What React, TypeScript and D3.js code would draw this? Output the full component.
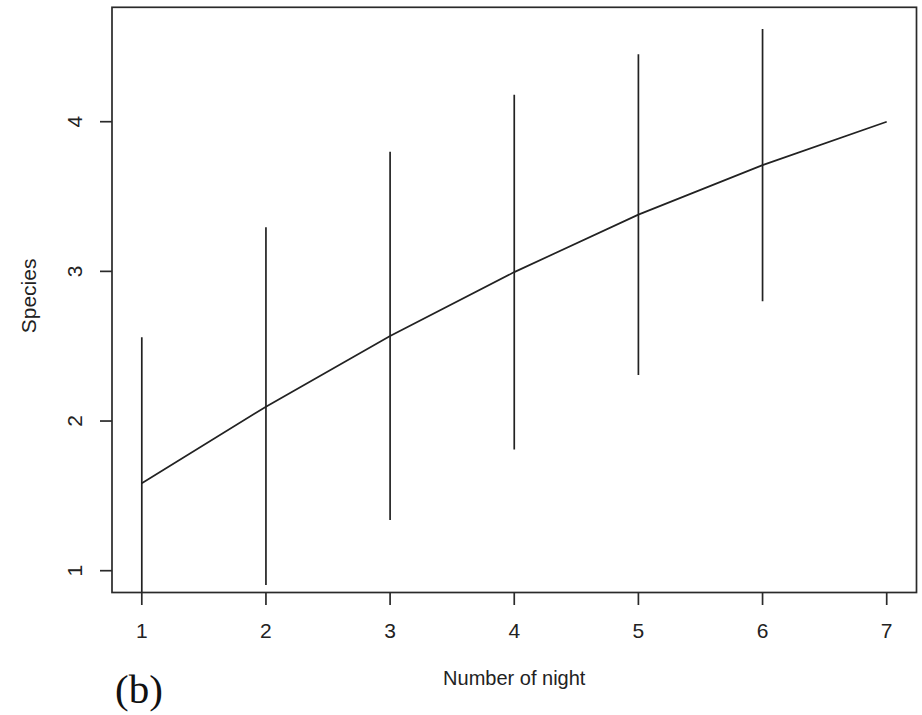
import React from "react";
import * as d3 from "d3";

const nights = [1, 2, 3, 4, 5, 6, 7];
const species = [1.584, 2.096, 2.568, 2.995, 3.379, 3.71, 4.0];
const upper = [2.56, 3.294, 3.8, 4.18, 4.45, 4.62, 4.0];
const lower = [0.608, 0.905, 1.339, 1.81, 2.307, 2.8, 4.0];
const xTicks = [1, 2, 3, 4, 5, 6, 7];
const yTicks = [1, 2, 3, 4];

const W = 922;
const H = 715;
const left = 112;
const right = 916.5;
const top = 7.3;
const bottom = 592.5;

export default function App() {
  const x = d3.scaleLinear().domain([0.76, 7.24]).range([left, right]);
  const y = d3.scaleLinear().domain([0.8543, 4.7644]).range([bottom, top]);
  const line = d3
    .line<number>()
    .x((_, i) => x(nights[i]))
    .y((d) => y(d));
  const stroke = "#222";
  const font = "Liberation Sans, Arial, sans-serif";
  return (
    <svg
      width={W}
      height={H}
      style={{ position: "absolute", left: 0, top: 0, background: "#fff" }}
    >
      <defs>
        <clipPath id="plotclip">
          <rect x={left} y={top} width={right - left} height={bottom - top} />
        </clipPath>
      </defs>
      <g clipPath="url(#plotclip)">
        {nights.map((n, i) => (
          <line
            key={n}
            x1={x(n)}
            x2={x(n)}
            y1={y(lower[i])}
            y2={y(upper[i])}
            stroke={stroke}
            strokeWidth={1.7}
          />
        ))}
        <path d={line(species) || ""} fill="none" stroke={stroke} strokeWidth={1.7} />
      </g>
      <rect
        x={left}
        y={top}
        width={right - left}
        height={bottom - top}
        fill="none"
        stroke="#2a2a2a"
        strokeWidth={1.7}
      />
      {xTicks.map((t) => (
        <g key={t}>
          <line x1={x(t)} x2={x(t)} y1={bottom} y2={bottom + 12.5} stroke="#2a2a2a" strokeWidth={1.7} />
          <text
            x={x(t)}
            y={631}
            dy="0.35em"
            textAnchor="middle"
            fontFamily={font}
            fontSize={21}
            fill="#222"
          >
            {t}
          </text>
        </g>
      ))}
      {yTicks.map((t) => (
        <g key={t}>
          <line x1={left - 12} x2={left} y1={y(t)} y2={y(t)} stroke="#2a2a2a" strokeWidth={1.7} />
          <text
            transform={`translate(75,${y(t)}) rotate(-90)`}
            dy="0.35em"
            textAnchor="middle"
            fontFamily={font}
            fontSize={21}
            fill="#222"
          >
            {t}
          </text>
        </g>
      ))}
      <text
        x={(left + right) / 2}
        y={685}
        textAnchor="middle"
        fontFamily={font}
        fontSize={20}
        fill="#222"
      >
        Number of night
      </text>
      <text
        transform={`translate(29,${(top + bottom) / 2 - 4}) rotate(-90)`}
        dy="0.35em"
        textAnchor="middle"
        fontFamily={font}
        fontSize={21}
        fill="#222"
      >
        Species
      </text>
      <text
        x={115}
        y={703}
        fontFamily="Liberation Serif, Times New Roman, serif"
        fontSize={41}
        fill="#111"
      >
        (b)
      </text>
    </svg>
  );
}
